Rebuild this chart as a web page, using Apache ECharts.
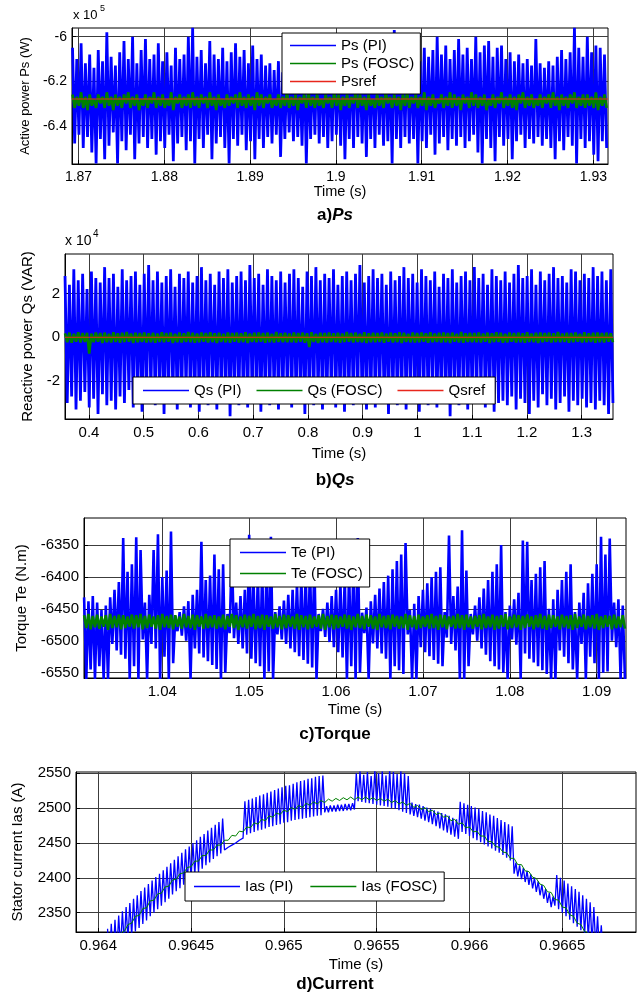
<!DOCTYPE html>
<html>
<head>
<meta charset="utf-8">
<script src="https://cdn.jsdelivr.net/npm/echarts@6/dist/echarts.min.js"></script>
<style>
html,body{margin:0;padding:0;background:#fff;}
#chart{width:640px;height:994px;}
</style>
</head>
<body>
<div id="chart"></div>
<script>
// ---------------- DATA ----------------
// a) Active power Ps, values in kW (axis shows x 10^5 W)
const psTimeStart = 1.8693, psTimeStep = 0.00025;
const psPI = [
-605,-648,-610,-644,-603,-650,-612,-645,-608,-652,-614,-657,-606,-646,-611,-655,-598,-649,-609,-643,
-613,-657,-607,-647,-602,-651,-610,-644,-600,-655,-612,-648,-606,-645,-601,-650,-610,-646,-608,-653,
-603,-647,-611,-650,-607,-644,-613,-656,-605,-648,-610,-645,-608,-651,-600,-647,-596,-657,-609,-646,
-606,-650,-612,-644,-602,-655,-608,-648,-610,-645,-605,-650,-611,-657,-607,-646,-603,-649,-609,-644,
-606,-651,-612,-647,-604,-655,-610,-646,-608,-650,-613,-645,-612,-648,-615,-644,-611,-654,-616,-646,
-613,-643,-615,-647,-612,-645,-616,-649,-610,-657,-614,-646,-612,-644,-606,-648,-611,-645,-609,-650,
-612,-647,-607,-644,-610,-649,-608,-655,-612,-646,-606,-650,-603,-645,-609,-648,-611,-654,-607,-646,
-610,-650,-605,-644,-612,-649,-608,-647,-610,-657,-597,-646,-609,-650,-606,-645,-603,-648,-610,-646,
-607,-657,-611,-647,-605,-650,-609,-644,-606,-653,-600,-648,-608,-645,-604,-651,-610,-646,-606,-649,
-601,-645,-608,-650,-605,-647,-610,-644,-600,-652,-607,-657,-604,-646,-602,-650,-609,-656,-605,-645,
-604,-649,-610,-646,-607,-655,-611,-647,-608,-644,-612,-650,-610,-646,-613,-648,-601,-645,-612,-649,
-614,-646,-611,-650,-613,-655,-609,-647,-606,-651,-610,-645,-607,-649,-596,-657,-605,-646,-609,-650,
-600,-647,-607,-653,-604,-656,-605,-647,-608,-650
];
const psFOSC = [
-626,-632,-627,-631,-625,-632,-627,-633,-626,-631,-628,-632,-626,-630,-627,-632,-625,-631,-627,-633,
-626,-631,-627,-632,-626,-630,-625,-632,-627,-631,-626,-633,-628,-631,-626,-632,-627,-630,-625,-632,
-627,-631,-626,-632,-628,-631,-625,-633,-627,-630,-626,-632,-627,-631,-626,-632,-625,-631,-627,-632,
-626,-630,-627,-632,-625,-631,-627,-633,-626,-631,-628,-632,-626,-631,-627,-630,-626,-632,-625,-631,
-627,-632,-626,-631,-627,-633,-625,-631,-626,-632,-627,-630,-626,-632,-628,-631,-626,-632,-627,-631,
-625,-632,-627,-631,-626,-633,-627,-630,-626,-632,-625,-631,-627,-632,-626,-631,-628,-632,-626,-630,
-627,-632,-625,-631,-626,-633,-627,-631,-626,-632,-627,-630,-625,-632,-626,-631,-627,-633,-626,-631,
-628,-632,-626,-631,-627,-632,-625,-630,-627,-632,-626,-631,-627,-633,-626,-631,-625,-632,-627,-630,
-626,-632,-627,-631,-625,-633,-627,-631,-626,-632,-628,-630,-626,-632,-627,-631,-625,-632,-626,-631,
-627,-633,-626,-630,-627,-632,-625,-631,-626,-632,-627,-631,-626,-633,-628,-631,-626,-632,-627,-630,
-625,-632,-627,-631,-626,-632,-627,-633,-626,-630,-625,-632,-627,-631,-626,-632,-628,-631,-626,-632,
-627,-630,-626,-632,-625,-631,-627,-633,-626,-631,-627,-632,-626,-630,-625,-632,-627,-631,-626,-632,
-626,-631,-627,-632,-625,-633,-627,-631,-626,-632
];
const psRef = [-628];
const psTicksX = [1.87, 1.88, 1.89, 1.9, 1.91, 1.92, 1.93];
const psTicksY = [-640, -620, -600];

// b) Reactive power Qs, values in kVAR (axis shows x 10^4 VAR)
const qsTimeStart = 0.3562, qsTimeStep = 0.00402;
const qsPI = [
28,-30,24,-27,31,-33,26,-29,29,-25,22,-32,30,-28,27,-35,25,-26,32,-31,
27,-29,29,-33,23,-27,31,-30,26,-24,28,-32,30,-28,24,-34,29,-30,33,-26,
26,-31,30,-28,25,-35,28,-29,31,-27,23,-33,29,-30,27,-25,30,-32,25,-28,
28,-34,32,-29,26,-31,29,-26,24,-33,30,-28,27,-30,31,-36,25,-27,28,-31,
30,-29,26,-32,33,-26,27,-30,29,-34,24,-28,31,-31,28,-27,26,-33,30,-29,
25,-25,29,-32,31,-30,27,-28,23,-35,30,-29,28,-31,32,-27,26,-33,29,-30,
27,-26,31,-32,24,-29,28,-34,30,-28,26,-31,29,-27,33,-30,25,-33,28,-29,
31,-32,27,-26,29,-30,24,-35,30,-28,26,-31,28,-29,32,-33,27,-27,29,-30,
25,-34,31,-28,28,-31,26,-26,30,-32,23,-29,29,-30,27,-36,31,-28,25,-31,
28,-27,30,-33,26,-29,32,-30,27,-25,29,-32,24,-28,31,-34,28,-30,26,-29,
30,-31,25,-27,29,-33,33,-28,27,-30,28,-35,31,-29,24,-32,30,-26,26,-31,
29,-28,32,-33,27,-30,28,-27,25,-34,31,-29,30,-31,26,-28,29,-32,27,-30,
32,-33,28,-29,30,-31,26,-35,31,-30
];
const qsFOSC = [
1.8,-2.2,2.1,-2.5,1.6,-2.0,2.3,-2.4,1.9,-2.1,2.0,-7.5,1.7,-2.3,2.2,-2.0,1.9,-2.6,2.1,-2.2,
1.6,-2.4,2.3,-2.1,1.8,-2.5,2.0,-2.2,2.4,-2.0,1.7,-2.6,2.1,-2.3,1.9,-2.1,2.2,-2.4,1.8,-2.2,
2.0,-2.5,1.7,-2.1,2.3,-2.3,1.9,-2.0,2.1,-2.6,1.6,-2.2,2.2,-2.4,1.8,-2.1,2.4,-2.3,2.0,-2.5,
1.7,-2.2,2.1,-2.0,1.9,-2.4,2.3,-2.2,1.8,-2.6,2.0,-2.1,1.6,-2.3,2.2,-2.5,1.9,-2.0,2.1,-2.4,
1.8,-2.2,2.3,-2.6,1.7,-2.1,2.0,-2.3,2.2,-2.0,1.9,-2.5,2.1,-2.2,1.6,-2.4,2.4,-2.1,1.8,-2.3,
2.0,-2.2,1.7,-2.2,2.2,-2.4,1.9,-2.0,2.1,-2.5,1.8,-4.5,2.3,-2.1,1.6,-2.6,2.0,-2.2,1.9,-2.4,
2.2,-2.1,1.8,-2.3,2.0,-2.5,1.7,-2.2,2.4,-2.0,1.9,-2.4,2.1,-2.1,1.6,-2.3,2.3,-2.6,1.8,-2.2,
2.0,-2.3,1.9,-2.1,2.2,-2.5,1.7,-2.0,2.1,-2.4,1.8,-2.2,2.3,-2.6,2.0,-2.1,1.6,-2.3,2.2,-2.4,
1.9,-2.2,2.1,-2.0,1.8,-2.5,2.3,-2.3,1.7,-2.1,2.0,-2.4,2.2,-2.2,1.9,-2.6,2.1,-2.0,1.6,-2.3,
2.4,-2.5,1.8,-2.1,2.0,-2.3,1.9,-2.2,2.2,-2.4,1.7,-2.0,2.1,-2.6,1.8,-2.2,2.3,-2.1,2.0,-2.5,
1.6,-2.3,2.2,-2.0,1.9,-2.4,2.1,-2.2,1.8,-2.5,2.3,-2.1,1.7,-2.3,2.0,-2.6,2.2,-2.2,1.9,-2.0,
2.1,-2.4,1.8,-2.2,2.4,-2.3,1.7,-2.1,2.0,-2.5,1.9,-2.2,2.2,-2.0,1.6,-2.4,2.3,-2.3,1.8,-2.1,
2.0,-2.5,2.2,-2.2,1.9,-2.4,2.1,-2.0,1.8,-2.3
];
const qsRef = [0];
const qsTicksX = [0.4, 0.5, 0.6, 0.7, 0.8, 0.9, 1, 1.1, 1.2, 1.3];
const qsTicksY = [-20, 0, 20];

// c) Torque Te (N.m)
const teTimeStart = 1.031, teTimeStep = 0.00025;
const tePI = [
-6432,-6560,-6438,-6545,-6430,-6560,-6440,-6540,-6452,-6560,-6445,-6560,-6432,-6505,-6420,-6515,-6408,-6522,-6339,-6528,
-6392,-6560,-6380,-6540,-6338,-6560,-6358,-6498,-6440,-6560,-6428,-6505,-6358,-6512,-6333,-6560,-6400,-6525,-6390,-6560,
-6329,-6535,-6462,-6485,-6455,-6492,-6446,-6500,-6438,-6560,-6428,-6512,-6420,-6520,-6345,-6526,-6405,-6532,-6398,-6538,
-6365,-6544,-6388,-6560,-6380,-6550,-6458,-6488,-6357,-6496,-6440,-6505,-6430,-6512,-6420,-6520,-6334,-6528,-6404,-6535,
-6395,-6540,-6385,-6560,-6376,-6548,-6337,-6560,-6455,-6490,-6446,-6498,-6437,-6505,-6428,-6512,-6420,-6518,-6410,-6524,
-6400,-6530,-6392,-6536,-6380,-6542,-6372,-6560,-6458,-6485,-6450,-6494,-6440,-6502,-6430,-6510,-6420,-6518,-6410,-6526,
-6400,-6560,-6390,-6540,-6380,-6560,-6339,-6550,-6456,-6488,-6448,-6560,-6438,-6504,-6428,-6512,-6418,-6520,-6408,-6528,
-6398,-6560,-6388,-6540,-6375,-6546,-6365,-6552,-6347,-6490,-6452,-6560,-6442,-6560,-6430,-6510,-6420,-6518,-6410,-6524,
-6400,-6530,-6392,-6536,-6385,-6540,-6455,-6495,-6335,-6505,-6430,-6515,-6415,-6560,-6327,-6560,-6390,-6540,-6458,-6490,
-6445,-6500,-6432,-6512,-6418,-6522,-6405,-6532,-6392,-6540,-6380,-6545,-6350,-6550,-6455,-6560,-6445,-6498,-6435,-6506,
-6425,-6560,-6343,-6520,-6345,-6528,-6405,-6534,-6395,-6540,-6385,-6546,-6375,-6552,-6450,-6560,-6435,-6560,-6420,-6515,
-6405,-6525,-6392,-6535,-6380,-6545,-6455,-6560,-6440,-6505,-6425,-6560,-6410,-6525,-6395,-6535,-6380,-6560,-6337,-6550,
-6365,-6548,-6340,-6500,-6440,-6510,-6435,-6560,-6445,-6560
];
const teFOSC = [
-6460,-6480,-6458,-6482,-6461,-6479,-6459,-6481,-6462,-6478,-6460,-6483,-6458,-6480,-6461,-6479,-6459,-6482,-6460,-6480,
-6462,-6478,-6459,-6481,-6460,-6479,-6458,-6482,-6461,-6480,-6459,-6478,-6462,-6481,-6460,-6483,-6458,-6479,-6461,-6480,
-6459,-6482,-6460,-6478,-6462,-6481,-6458,-6479,-6461,-6480,-6459,-6483,-6460,-6478,-6462,-6481,-6458,-6480,-6461,-6479,
-6460,-6481,-6462,-6479,-6459,-6482,-6461,-6478,-6458,-6480,-6460,-6483,-6462,-6479,-6459,-6481,-6461,-6478,-6458,-6482,
-6461,-6480,-6459,-6483,-6460,-6478,-6462,-6481,-6458,-6479,-6461,-6482,-6459,-6480,-6460,-6478,-6462,-6481,-6458,-6483,
-6460,-6479,-6461,-6482,-6459,-6480,-6462,-6478,-6460,-6481,-6458,-6483,-6461,-6479,-6459,-6482,-6460,-6480,-6462,-6478,
-6459,-6481,-6460,-6483,-6462,-6479,-6458,-6480,-6461,-6482,-6459,-6478,-6460,-6481,-6462,-6483,-6458,-6479,-6461,-6480,
-6460,-6482,-6459,-6478,-6461,-6481,-6462,-6480,-6458,-6483,-6460,-6479,-6461,-6482,-6459,-6480,-6462,-6478,-6460,-6481,
-6458,-6480,-6461,-6483,-6459,-6479,-6460,-6482,-6462,-6478,-6461,-6481,-6458,-6480,-6460,-6483,-6459,-6479,-6462,-6481,
-6461,-6478,-6460,-6482,-6458,-6480,-6462,-6479,-6459,-6483,-6461,-6481,-6460,-6478,-6458,-6482,-6462,-6480,-6459,-6479,
-6460,-6483,-6461,-6480,-6459,-6478,-6462,-6482,-6460,-6479,-6458,-6481,-6461,-6483,-6459,-6480,-6460,-6478,-6462,-6482,
-6459,-6479,-6461,-6481,-6460,-6483,-6458,-6480,-6462,-6478,-6459,-6482,-6461,-6479,-6460,-6481,-6458,-6483,-6462,-6480,
-6460,-6478,-6461,-6482,-6459,-6480,-6462,-6479,-6460,-6481
];
const teTicksX = [1.04, 1.05, 1.06, 1.07, 1.08, 1.09];
const teTicksY = [-6550, -6500, -6450, -6400, -6350];

// d) Stator current Ias (A)
const iasPITimeStart = 0.96405, iasPITimeStep = 0.00001;
const iasPI = [
2327,2280,2334,2287,2340,2293,2346,2299,2352,2305,2358,2311,2364,2317,2370,2323,2375,2328,2381,2334,
2386,2339,2391,2345,2396,2350,2401,2355,2406,2360,2411,2365,2416,2370,2421,2376,2426,2381,2431,2385,
2436,2390,2441,2394,2445,2399,2450,2404,2454,2408,2459,2413,2463,2418,2468,2422,2472,2427,2476,2431,
2480,2435,2485,2440,
2442,2444,2445,2447,2449,2450,2452,2454,2455,2457,
2510,2462,2512,2464,2514,2466,2516,2468,2518,2469,2520,2471,2522,2473,2524,2474,2526,2476,2528,2477,
2530,2479,2532,2480,2533,2482,2535,2483,2537,2484,2539,2485,2540,2486,2542,2487,2543,2488,2545,2489,
2546,2490,2547,
2494,2503,2494,2504,2495,2504,2495,2505,2496,2505,2496,2506,2497,2506,2497,2507,2498,
2550,2510,2553,2509,2548,2508,2552,2507,2546,2506,2554,2505,2550,2504,2553,2503,2547,2502,2555,2500,
2552,2499,2549,2497,2553,2495,2550,2493,2546,2491,
2508,2489,2506,2487,2505,2485,2503,2482,2501,2480,2499,2477,2497,2474,2495,2471,2493,2468,2491,2465,
2489,2462,2486,2459,2484,2456,
2509,2466,2507,2463,2505,2460,2503,2457,2501,2454,2499,2451,2496,2448,2494,2445,2491,2442,2489,2439,
2486,2436,2483,2433,2480,2429,2477,2425,2474,
2406,2422,2402,2418,2398,2414,2394,2410,2390,2405,2385,2400,2380,2395,2375,2390,2370,2384,2364,2378,
2358,2373,
2360,2404,2355,2400,2350,2396,2345,2392,2340,2388,2335,2384,2330,2380,2325,2375,2318,2370,2312,2365,
2306,2358,2300,2345,2295,2332,2290
];
const iasFOSCTimeStart = 0.96412, iasFOSCTimeStep = 0.00002;
const iasFOSC = [
2321,2323,2333,2335,2345,2346,2356,2357,2367,2368,2377,2378,2387,2388,2397,2398,2406,2407,2415,2416,
2424,2424,2432,2432,2440,2440,2447,2447,2454,2454,2461,2460,2467,2466,2473,2472,2479,2477,2484,2482,
2489,2487,2493,2491,2497,2495,2501,2498,2504,2501,2507,2504,2509,2506,2511,2508,2513,2510,2514,2511,
2515,2512,2516,2512,2516,2512,2516,2512,2515,2511,2514,2510,2513,2508,2511,2506,2509,2504,2507,2501,
2504,2498,2501,2495,2497,2491,2493,2487,2489,2482,2484,2477,2479,2472,2473,2466,2467,2460,2460,2452,
2452,2445,2444,2437,2436,2428,2428,2419,2419,2410,2409,2401,2399,2391,2389,2380,2379,2369,2368,2358,
2357,2347,2345,2335,2333,2323,2321,2310
];
const iasTicksX = [0.964, 0.9645, 0.965, 0.9655, 0.966, 0.9665];
const iasTicksY = [2350, 2400, 2450, 2500, 2550];

// ---------------- CHART ----------------
const FONT = "'Liberation Sans', Arial, Helvetica, sans-serif";
const BLUE = '#0000ff', GREEN = '#008000', RED = '#e8261c';
const GRIDC = '#3c3c3c';

function toSeries(start, step, vals) {
  return vals.map((v, i) => [start + i * step, v]);
}

function xAx(gi, min, max, ticks, fs, nfs, gap) {
  return {
    type: 'value', gridIndex: gi, min: min, max: max,
    name: 'Time (s)', nameLocation: 'middle', nameGap: gap,
    nameTextStyle: {fontSize: nfs, color: '#000', fontFamily: FONT},
    axisLine: {show: true, onZero: false, lineStyle: {color: '#000', width: 1}},
    axisTick: {show: true, inside: true, length: 4, customValues: ticks, lineStyle: {color: '#000'}},
    axisLabel: {customValues: ticks, fontSize: fs, color: '#000', margin: 6, fontFamily: FONT,
      formatter: v => String(v)},
    splitLine: {show: true, lineStyle: {color: GRIDC, width: 1}}
  };
}
function yAx(gi, min, max, ticks, fs, nfs, name, gap, fmt) {
  return {
    type: 'value', gridIndex: gi, min: min, max: max,
    name: name, nameLocation: 'middle', nameGap: gap,
    nameTextStyle: {fontSize: nfs, color: '#000', fontFamily: FONT},
    axisLine: {show: true, onZero: false, lineStyle: {color: '#000', width: 1}},
    axisTick: {show: true, inside: true, length: 4, customValues: ticks, lineStyle: {color: '#000'}},
    axisLabel: {customValues: ticks, fontSize: fs, color: '#000', margin: 5, fontFamily: FONT,
      formatter: fmt || (v => String(v))},
    splitLine: {show: true, lineStyle: {color: GRIDC, width: 1}}
  };
}
function line(name, gi, data, color, z, w) {
  return {
    name: name, type: 'line', xAxisIndex: gi, yAxisIndex: gi, data: data,
    symbol: 'none', showSymbol: false, clip: true, z: z, sampling: null,
    lineStyle: {color: color, width: w, join: 'miter', miterLimit: 2}, itemStyle: {color: color},
    emphasis: {disabled: true}, animation: false
  };
}
function legendBox(names, left, top, orient, gap, pad) {
  return {
    data: names, orient: orient, left: left, top: top,
    icon: 'rect', itemWidth: 46, itemHeight: 1.5, itemGap: gap, padding: pad,
    borderColor: '#000', borderWidth: 1, backgroundColor: '#fff',
    selectedMode: false,
    textStyle: {fontSize: 15, color: '#000', fontFamily: FONT}
  };
}

const X = [
  [1.86924, 1.93171], [0.35616, 1.35725], [1.030988, 1.093373], [0.96388, 0.966897]
];
const Y = [
  [-657.2, -596.1], [-37.3, 38.0], [-6558.3, -6307.7], [2322.3, 2551.9]
];

const option = {
  animation: false,
  backgroundColor: '#fff',
  grid: [
    {left: 72, top: 28, width: 536, height: 136},
    {left: 65, top: 254, width: 548, height: 165},
    {left: 84, top: 518, width: 542, height: 160},
    {left: 76, top: 772, width: 560, height: 160}
  ].map(g => Object.assign(g, {show: true, borderColor: '#000', borderWidth: 1, backgroundColor: '#fff', containLabel: false})),
  xAxis: [
    xAx(0, X[0][0], X[0][1], psTicksX, 14, 14.5, 20),
    xAx(1, X[1][0], X[1][1], qsTicksX, 15, 15, 27),
    xAx(2, X[2][0], X[2][1], teTicksX, 15, 15, 24),
    xAx(3, X[3][0], X[3][1], iasTicksX, 15, 15, 25)
  ],
  yAxis: [
    yAx(0, Y[0][0], Y[0][1], psTicksY, 14, 13, 'Active power Ps (W)', 39, v => String(Math.round(v) / 100)),
    yAx(1, Y[1][0], Y[1][1], qsTicksY, 15, 15, 'Reactive power Qs (VAR)', 30, v => String(Math.round(v) / 10)),
    yAx(2, Y[2][0], Y[2][1], teTicksY, 15, 15, 'Torque Te (N.m)', 52),
    yAx(3, Y[3][0], Y[3][1], iasTicksY, 15, 15, 'Stator current Ias (A)', 51)
  ],
  legend: [
    legendBox(['Ps (PI)', 'Ps (FOSC)', 'Psref'], 282, 33, 'vertical', 3, [5, 6, 5, 8]),
    legendBox(['Qs (PI)', 'Qs (FOSC)', 'Qsref'], 133, 377, 'horizontal', 15, [6, 10, 6, 10]),
    legendBox(['Te (PI)', 'Te (FOSC)'], 230, 539, 'vertical', 6, [6, 7, 6, 10]),
    legendBox(['Ias (PI)', 'Ias (FOSC)'], 185, 872, 'horizontal', 17, [7, 7, 7, 9])
  ],
  series: [
    line('Ps (PI)', 0, toSeries(psTimeStart, psTimeStep, psPI), BLUE, 2, 2.8),
    line('Ps (FOSC)', 0, toSeries(psTimeStart, psTimeStep, psFOSC), GREEN, 3, 2.6),
    line('Psref', 0, [[X[0][0], psRef[0]], [X[0][1], psRef[0]]], RED, 4, 1),
    line('Qs (PI)', 1, toSeries(qsTimeStart, qsTimeStep, qsPI), BLUE, 2, 2.8),
    line('Qs (FOSC)', 1, toSeries(qsTimeStart, qsTimeStep, qsFOSC), GREEN, 3, 2.6),
    line('Qsref', 1, [[X[1][0], qsRef[0]], [X[1][1], qsRef[0]]], RED, 4, 1),
    line('Te (PI)', 2, toSeries(teTimeStart, teTimeStep, tePI), BLUE, 2, 2.6),
    line('Te (FOSC)', 2, toSeries(teTimeStart, teTimeStep, teFOSC), GREEN, 3, 2.6),
    line('Ias (PI)', 3, toSeries(iasPITimeStart, iasPITimeStep, iasPI), BLUE, 2, 1.3),
    line('Ias (FOSC)', 3, toSeries(iasFOSCTimeStart, iasFOSCTimeStep, iasFOSC), GREEN, 3, 1)
  ],
  graphic: [
    {type: 'text', left: 73, top: 9, style: {text: 'x 10', fontSize: 13, fontFamily: FONT, fill: '#000'}},
    {type: 'text', left: 100, top: 4, style: {text: '5', fontSize: 9, fontFamily: FONT, fill: '#000'}},
    {type: 'text', left: 65, top: 234, style: {text: 'x 10', fontSize: 14, fontFamily: FONT, fill: '#000'}},
    {type: 'text', left: 93, top: 229, style: {text: '4', fontSize: 10, fontFamily: FONT, fill: '#000'}},
    {type: 'text', x: 335, y: 215, style: {text: 'a){i|Ps}', align: 'center', verticalAlign: 'middle',
      fontSize: 17, fontWeight: 'bold', fontFamily: FONT, fill: '#000',
      rich: {i: {fontSize: 17, fontWeight: 'bold', fontStyle: 'italic', fontFamily: FONT, fill: '#000'}}}},
    {type: 'text', x: 335, y: 480, style: {text: 'b){i|Qs}', align: 'center', verticalAlign: 'middle',
      fontSize: 17, fontWeight: 'bold', fontFamily: FONT, fill: '#000',
      rich: {i: {fontSize: 17, fontWeight: 'bold', fontStyle: 'italic', fontFamily: FONT, fill: '#000'}}}},
    {type: 'text', x: 335, y: 734, style: {text: 'c)Torque', align: 'center', verticalAlign: 'middle',
      fontSize: 17, fontWeight: 'bold', fontFamily: FONT, fill: '#000'}},
    {type: 'text', x: 335, y: 984, style: {text: 'd)Current', align: 'center', verticalAlign: 'middle',
      fontSize: 17, fontWeight: 'bold', fontFamily: FONT, fill: '#000'}}
  ]
};

const chart = echarts.init(document.getElementById('chart'), null, {renderer: 'canvas', width: 640, height: 994});
chart.setOption(option);
</script>
</body>
</html>
